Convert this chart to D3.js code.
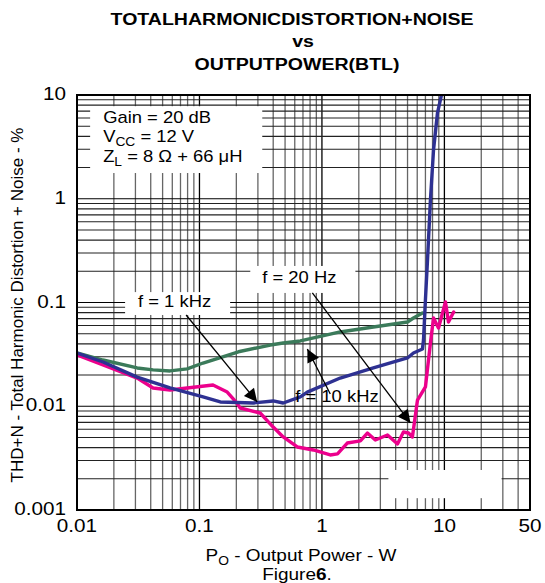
<!DOCTYPE html>
<html><head><meta charset="utf-8">
<script src="https://cdn.jsdelivr.net/npm/d3@7"></script>
<style>body{margin:0;background:#fff}svg{display:block}text{font-family:"Liberation Sans",Arial,sans-serif}</style>
</head><body>
<script>
// ---------- data ----------
const titleLines = ["TOTALHARMONICDISTORTION+NOISE", "vs", "OUTPUTPOWER(BTL)"];
const xTickValues = [0.01, 0.1, 1, 10, 50];
const xTickLabels = ["0.01", "0.1", "1", "10", "50"];
const yTickValues = [0.001, 0.01, 0.1, 1, 10];
const yTickLabels = ["0.001", "0.01", "0.1", "1", "10"];

// f = 1 kHz (blue)
const blueP = [0.01,0.0163,0.031,0.0575,0.107,0.148,0.275,0.40,0.483,0.666,0.76,1.41,2.63,4.99,5.59,6.62,6.75,7.0,7.28,7.69,8.15,8.78,9.47];
const blueT = [0.0326,0.0267,0.0191,0.0150,0.0123,0.0110,0.01075,0.01125,0.01075,0.0123,0.0137,0.0187,0.0234,0.0292,0.0326,0.0356,0.0435,0.106,0.257,0.973,2.95,6.71,10];
// f = 20 Hz (green)
const greenP = [0.01,0.0163,0.031,0.0418,0.0575,0.0793,0.107,0.208,0.379,0.483,0.666,1.41,2.63,4.99,5.59,6.62];
const greenT = [0.0326,0.0279,0.0234,0.0224,0.0219,0.0229,0.0261,0.0335,0.0389,0.0407,0.0426,0.0520,0.0580,0.0649,0.0709,0.0792];
// f = 10 kHz (pink)
const pinkP = [0.01,0.0163,0.031,0.0418,0.0575,0.0793,0.129,0.1685,0.196,0.215,0.313,0.40,0.483,0.629,0.851,1.17,1.34,1.61,2.06,2.35,2.73,3.43,4.14,4.63,5.09,5.48,6.03,7.0,7.69,8.15,8.95,10.2,10.8,11.9];
const pinkT = [0.0312,0.0250,0.0187,0.0150,0.01436,0.0150,0.01603,0.01371,0.01123,0.00962,0.00861,0.0063,0.00506,0.00405,0.00379,0.00339,0.00347,0.00442,0.00463,0.00552,0.00473,0.00528,0.00433,0.00565,0.00552,0.00506,0.01148,0.01535,0.0407,0.0709,0.0568,0.1011,0.0649,0.0810];

// annotations (data space)
const annoLabels = ["f = 1 kHz", "f = 20 Hz", "f = 10 kHz"];
const annoLabelAt = [[0.0315, 0.0906], [0.3256, 0.154], [0.606, 0.0110]];
const annoArrowFrom = [[0.0778,0.0758],[0.835,0.1236],[1.17,0.01312]];
const annoArrowTo   = [[0.296,0.0110],[5.28,0.0069],[0.76,0.0356]];

// ---------- layout ----------
const W = 545, H = 583;
const L = 77, R = 530, T = 95, B = 510;
const SX = 1.15; // horizontal text stretch
const svg = d3.select("body").append("svg").attr("width", W).attr("height", H);

const x = d3.scaleLog().domain([0.01, 50]).range([L, R]);
const y = d3.scaleLog().domain([0.001, 10]).range([B, T]);

function stext(g, px, py, anchor, size, weight) {
  const t = g.append("text")
    .attr("transform", `translate(${px},${py}) scale(${SX},1)`)
    .attr("text-anchor", anchor).attr("font-size", size);
  if (weight) t.attr("font-weight", weight);
  return t;
}

// title
const titleY = [25, 47, 70], titleX = [292, 303, 297];
titleLines.forEach((s, i) => stext(svg, titleX[i], titleY[i], "middle", 17, "bold").text(s));

// grid
const xGrid = [];
[0.01, 0.1, 1, 10].forEach(d => { for (let k = 1; k <= 9; k++) xGrid.push(+(d*k).toPrecision(3)); });
xGrid.push(50);
const xGridF = xGrid.filter(v => v <= 50);
const yGrid = [];
[0.001, 0.01, 0.1, 1].forEach(d => { for (let k = 1; k <= 9; k++) yGrid.push(+(d*k).toPrecision(3)); });
yGrid.push(10);
const isMajor = v => Math.abs(Math.log10(v) - Math.round(Math.log10(v))) < 1e-6;

const grid = svg.append("g");
grid.selectAll("line.v").data(xGridF).join("line")
  .attr("x1", d => x(d)).attr("x2", d => x(d)).attr("y1", T).attr("y2", B)
  .attr("stroke", d => isMajor(d) ? "#000" : "#666").attr("stroke-width", 1.3);
grid.selectAll("line.h").data(yGrid).join("line")
  .attr("y1", d => y(d)).attr("y2", d => y(d)).attr("x1", L).attr("x2", R)
  .attr("stroke", d => isMajor(d) ? "#000" : "#222").attr("stroke-width", 1.2);

// white boxes covering grid (data-space corners)
function boxData(p0, v0, p1, v1) {
  return {x: x(p0), y: y(v0), w: x(p1) - x(p0), h: y(v1) - y(v0)};
}
const whiteBoxes = [
  boxData(0.0128, 7.8, 0.3256, 1.77),     // conditions box
  boxData(0.0247, 0.126, 0.178, 0.0758),  // f = 1 kHz
  boxData(0.26, 0.225, 1.876, 0.1236),    // f = 20 Hz
  boxData(3.49, 0.00243, 29.3, 0.00130),  // blank box
];
svg.append("g").selectAll("rect").data(whiteBoxes).join("rect")
  .attr("x", d => d.x).attr("y", d => d.y).attr("width", d => d.w).attr("height", d => d.h)
  .attr("fill", "#fff");

// curves
const line = d3.line().x(d => x(d[0])).y(d => y(d[1])).curve(d3.curveLinear);
const series = [
  {P: greenP, T: greenT, c: "#3b7a5a"},
  {P: pinkP, T: pinkT, c: "#ec008c"},
  {P: blueP, T: blueT, c: "#2e3192"},
];
svg.append("clipPath").attr("id", "cp").append("rect")
  .attr("x", L).attr("y", T).attr("width", R - L).attr("height", B - T);
svg.append("g").attr("clip-path", "url(#cp)").selectAll("path").data(series).join("path")
  .attr("d", s => line(s.P.map((p, i) => [p, s.T[i]])))
  .attr("fill", "none").attr("stroke", s => s.c).attr("stroke-width", 3.4)
  .attr("stroke-linejoin", "round").attr("stroke-linecap", "round");

// frame
svg.append("rect").attr("x", L).attr("y", T).attr("width", R - L).attr("height", B - T)
  .attr("fill", "none").attr("stroke", "#000").attr("stroke-width", 2);

// conditions text
const cond = svg.append("g");
stext(cond, x(0.0128) + 13, y(7.8) + 17, "start", 16).text("Gain = 20 dB");
const t2 = stext(cond, x(0.0128) + 13, y(7.8) + 36, "start", 16);
t2.append("tspan").text("V");
t2.append("tspan").attr("font-size", 12).attr("dy", 4).text("CC");
t2.append("tspan").attr("dy", -4).text(" = 12 V");
const t3 = stext(cond, x(0.0128) + 13, y(7.8) + 56, "start", 16);
t3.append("tspan").text("Z");
t3.append("tspan").attr("font-size", 12).attr("dy", 4).text("L");
t3.append("tspan").attr("dy", -4).text(" = 8 \u03A9 + 66 \u03BCH");

// annotations
annoLabels.forEach((s, i) => stext(svg, x(annoLabelAt[i][0]), y(annoLabelAt[i][1]), "start", 16).text(s));

const defs = svg.append("defs");
defs.append("marker").attr("id", "ah").attr("viewBox", "0 0 10 10").attr("refX", 10).attr("refY", 5)
  .attr("markerWidth", 16).attr("markerHeight", 13).attr("markerUnits", "userSpaceOnUse")
  .attr("orient", "auto").append("path").attr("d", "M0,0 L10,5 L0,10 z").attr("fill", "#000");
svg.append("g").selectAll("line").data(annoArrowFrom.map((f, i) => [f, annoArrowTo[i]])).join("line")
  .attr("x1", d => x(d[0][0])).attr("y1", d => y(d[0][1]))
  .attr("x2", d => x(d[1][0])).attr("y2", d => y(d[1][1]))
  .attr("stroke", "#000").attr("stroke-width", 1.3).attr("marker-end", "url(#ah)");

// tick labels
const axes = svg.append("g");
xTickValues.forEach((v, i) => stext(axes, x(v), 532, "middle", 18).text(xTickLabels[i]));
yTickValues.forEach((v, i) => stext(axes, 66, y(v) + 5, "end", 18).text(yTickLabels[i]));

// axis titles
const xt = stext(svg, 301, 561, "middle", 16.5);
xt.append("tspan").text("P");
xt.append("tspan").attr("font-size", 12).attr("dy", 4).text("O");
xt.append("tspan").attr("dy", -4).text(" - Output Power - W");
const fg = stext(svg, 297, 580, "middle", 16.5);
fg.append("tspan").text("Figure");
fg.append("tspan").attr("font-weight", "bold").text("6");
fg.append("tspan").text(".");

svg.append("text").attr("transform", "translate(23,305) rotate(-90)")
  .attr("text-anchor", "middle").attr("font-size", 17)
  .text("THD+N - Total Harmonic Distortion + Noise - %");
</script>
</body></html>
